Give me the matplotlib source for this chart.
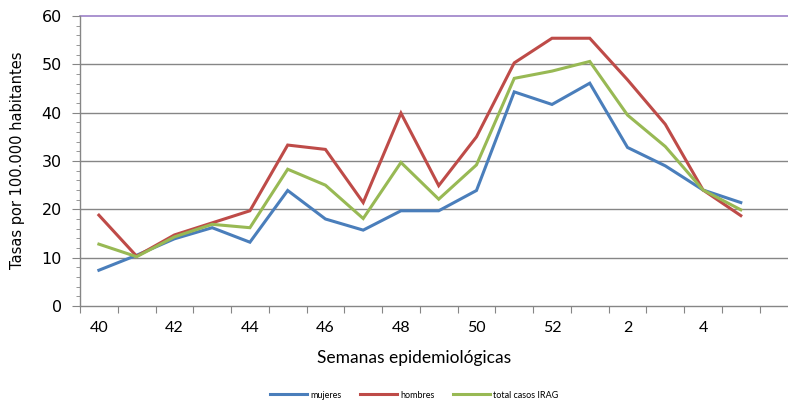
import matplotlib
matplotlib.use("Agg")
import matplotlib.pyplot as plt
from matplotlib.ticker import MultipleLocator, FixedLocator

weeks = ["40", "41", "42", "43", "44", "45", "46", "47", "48", "49", "50", "51", "52",
         "1", "2", "3", "4", "5"]
mujeres = [7.4, 10.5, 13.9, 16.2, 13.2, 23.9, 18.0, 15.7, 19.7, 19.7, 23.9, 44.3, 41.7,
           46.1, 32.8, 29.0, 24.0, 21.4]
hombres = [18.8, 10.3, 14.7, 17.2, 19.7, 33.3, 32.4, 21.4, 39.9, 24.9, 35.0, 50.3, 55.4,
           55.4, 46.8, 37.6, 24.0, 18.7]
total = [12.8, 10.2, 14.3, 16.9, 16.2, 28.3, 25.0, 18.1, 29.7, 22.1, 29.2, 47.1, 48.6,
         50.6, 39.5, 33.0, 24.0, 19.9]
series_names = ["mujeres", "hombres", "total casos IRAG"]
colors = ["#4A7EBB", "#BE4B48", "#98B954"]

fig = plt.figure(figsize=(7.88, 4.01), dpi=100)
ax = fig.add_axes([80 / 788, 1 - 306 / 401, 1 - 80 / 788, 290 / 401])

x = list(range(len(weeks)))
for vals, c, n in zip([mujeres, hombres, total], colors, series_names):
    ax.plot(x, vals, color=c, lw=2.2, label=n, solid_joinstyle="miter")

ax.set_ylim(0, 60)
ax.set_xlim(-0.5, 18.25)
ax.yaxis.set_major_locator(MultipleLocator(10))
ax.yaxis.set_minor_locator(MultipleLocator(2))
for yv in range(10, 60, 10):
    ax.axhline(yv, color="#868686", lw=1.0, zorder=0)
ax.axhline(60, color="#9C80C8", lw=1.2, zorder=0, clip_on=False)

for s in ["top", "right"]:
    ax.spines[s].set_visible(False)
for s in ["left", "bottom"]:
    ax.spines[s].set_color("#868686")
    ax.spines[s].set_linewidth(1.0)

ax.tick_params(axis="y", which="major", length=6, color="#868686", labelsize=11.5, pad=7)
ax.tick_params(axis="y", which="minor", length=3, color="#868686")
for lab in ax.get_yticklabels():
    lab.set_family("DejaVu Sans")

ax.xaxis.set_major_locator(FixedLocator([i - 0.5 for i in range(20)]))
ax.xaxis.set_major_formatter(plt.NullFormatter())
ax.xaxis.set_minor_locator(FixedLocator(x[::2]))
ax.set_xticklabels([weeks[i] for i in x[::2]], minor=True)
ax.tick_params(axis="x", which="major", length=5, color="#868686")
ax.tick_params(axis="x", which="minor", length=0, labelsize=11.5, pad=11)
for lab in ax.get_xticklabels(minor=True):
    lab.set_family("Lato")

fig.text(18 / 788, 1 - 160 / 401, "Tasas por 100.000 habitantes", rotation=90,
         ha="center", va="center", fontsize=10.5, family="DejaVu Sans")
fig.text(414 / 788, 1 - 358 / 401, "Semanas epidemiológicas", ha="center", va="center",
         fontsize=12.5, family="Lato")

fig.legend(loc="center", bbox_to_anchor=(414 / 788, 1 - 395 / 401), ncol=3, frameon=False,
           prop={"family": "Lato", "size": 6.5}, handlelength=4.2, columnspacing=2.0,
           handletextpad=0.3)

fig.savefig("out.png", dpi=100)
